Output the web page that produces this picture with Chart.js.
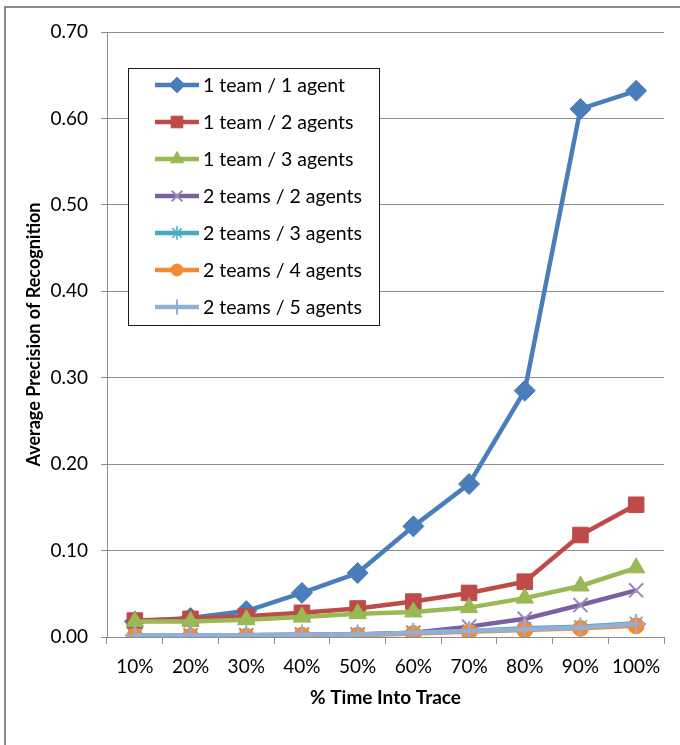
<!DOCTYPE html>
<html>
<head>
<meta charset="utf-8">
<script src="https://cdn.jsdelivr.net/npm/chart.js@4/dist/chart.umd.min.js"></script>
<style>
  html, body { margin: 0; padding: 0; background: #ffffff; }
  #wrap { width: 680px; height: 745px; }
</style>
</head>
<body>
<div id="wrap"><canvas id="chart" width="680" height="745"></canvas></div>
<script>
// Categories (x axis)
const timeLabels = ['10%', '20%', '30%', '40%', '50%', '60%', '70%', '80%', '90%', '100%'];

// Series names
const seriesNames = [
  '1 team / 1 agent',
  '1 team / 2 agents',
  '1 team / 3 agents',
  '2 teams / 2 agents',
  '2 teams / 3 agents',
  '2 teams / 4 agents',
  '2 teams / 5 agents'
];

// Average precision of recognition per series
const team1Agent1  = [0.018, 0.022, 0.030, 0.051, 0.074, 0.128, 0.177, 0.285, 0.611, 0.632];
const team1Agents2 = [0.019, 0.021, 0.024, 0.028, 0.033, 0.041, 0.051, 0.064, 0.118, 0.153];
const team1Agents3 = [0.018, 0.018, 0.020, 0.023, 0.027, 0.029, 0.034, 0.045, 0.059, 0.080];
const teams2Agents2 = [0.002, 0.002, 0.002, 0.003, 0.003, 0.005, 0.012, 0.021, 0.037, 0.054];
const teams2Agents3 = [0.001, 0.001, 0.002, 0.002, 0.003, 0.005, 0.007, 0.010, 0.012, 0.016];
const teams2Agents4 = [0.001, 0.001, 0.001, 0.002, 0.002, 0.004, 0.006, 0.008, 0.010, 0.013];
const teams2Agents5 = [0.002, 0.002, 0.002, 0.003, 0.003, 0.005, 0.007, 0.009, 0.011, 0.015];

// Y axis range
const yMin = 0;
const yMax = 0.70;
const yStep = 0.10;

const seriesValues = [team1Agent1, team1Agents2, team1Agents3, teams2Agents2, teams2Agents3, teams2Agents4, teams2Agents5];

// Styling per series
const seriesStyles = [
  { color: '#4A7EBB', marker: 'rectRot',  radius: 10.5, border: 1 },
  { color: '#BE4B48', marker: 'rect',     radius: 11,   border: 1 },
  { color: '#98B954', marker: 'triangle', radius: 10,   border: 1 },
  { color: '#7D60A0', marker: 'crossRot', radius: 10,   border: 2, markerColor: '#9C87BC' },
  { color: '#46AAC5', marker: 'star',     radius: 9,    border: 1.5 },
  { color: '#F38A35', marker: 'circle',   radius: 8,    border: 1 },
  { color: '#92AFD8', marker: 'cross',    radius: 10,   border: 2 }
];

const FONT = 'Lato, "Open Sans", "Liberation Sans", sans-serif';
const GRID = '#8C8C8C';

const datasets = seriesValues.map((vals, i) => {
  const s = seriesStyles[i];
  const mc = s.markerColor || s.color;
  return {
    label: seriesNames[i],
    data: vals,
    borderColor: s.color,
    backgroundColor: s.color,
    borderWidth: 4.5,
    pointStyle: s.marker,
    pointRadius: s.radius,
    pointBorderWidth: s.border,
    pointBackgroundColor: mc,
    pointBorderColor: mc,
    tension: 0,
    // later series sit on top of earlier ones
    order: seriesValues.length - i
  };
});

// Frame around the whole figure
const framePlugin = {
  id: 'frame',
  beforeDraw(chart) {
    const ctx = chart.ctx;
    ctx.save();
    ctx.fillStyle = '#ffffff';
    ctx.fillRect(0, 0, chart.width, chart.height);
    ctx.strokeStyle = '#8A8A8A';
    ctx.lineWidth = 2;
    ctx.beginPath();
    ctx.moveTo(5, chart.height + 2);
    ctx.lineTo(5, 7);
    ctx.lineTo(chart.width + 2, 7);
    ctx.stroke();
    ctx.restore();
  }
};

// Boxed legend inside the plot area
const boxLegendPlugin = {
  id: 'boxLegend',
  afterDatasetsDraw(chart) {
    const ctx = chart.ctx;
    const box = { x: 128.5, y: 68.5, w: 251, h: 257 };
    ctx.save();
    ctx.fillStyle = '#ffffff';
    ctx.fillRect(box.x, box.y, box.w, box.h);
    ctx.strokeStyle = '#1a1a1a';
    ctx.lineWidth = 1;
    ctx.strokeRect(box.x, box.y, box.w, box.h);

    const rowTop = 85;
    const rowGap = 37;
    const lineX0 = 155, lineX1 = 199, textX = 203;
    ctx.font = '19.5px ' + FONT;
    ctx.textBaseline = 'middle';
    ctx.textAlign = 'left';
    chart.data.datasets.forEach((ds, i) => {
      const y = rowTop + i * rowGap;
      ctx.strokeStyle = ds.borderColor;
      ctx.lineWidth = ds.borderWidth;
      ctx.beginPath();
      ctx.moveTo(lineX0, y);
      ctx.lineTo(lineX1, y);
      ctx.stroke();
      ctx.fillStyle = ds.pointBackgroundColor;
      ctx.strokeStyle = ds.pointBorderColor;
      ctx.lineWidth = ds.pointBorderWidth;
      Chart.helpers.drawPoint(ctx, {
        pointStyle: ds.pointStyle,
        radius: ds.pointRadius * 0.75,
        rotation: 0,
        borderWidth: ds.pointBorderWidth
      }, (lineX0 + lineX1) / 2, y);
      ctx.fillStyle = '#000000';
      ctx.fillText(ds.label, textX, y + 1);
    });
    ctx.restore();
  }
};

new Chart(document.getElementById('chart'), {
  type: 'line',
  data: { labels: timeLabels, datasets },
  plugins: [framePlugin, boxLegendPlugin],
  options: {
    responsive: false,
    devicePixelRatio: 1,
    animation: false,
    layout: { padding: { top: 32, right: 16, left: 0, bottom: 0 } },
    plugins: {
      legend: { display: false },
      tooltip: { enabled: false },
      title: { display: false }
    },
    scales: {
      x: {
        type: 'category',
        offset: true,
        grid: {
          display: true,
          offset: true,
          drawOnChartArea: false,
          drawTicks: true,
          tickLength: 7,
          color: GRID,
          lineWidth: 1
        },
        border: { display: true, color: GRID, width: 1 },
        ticks: {
          color: '#000000',
          font: { family: FONT, size: 19 },
          padding: 11,
          maxRotation: 0,
          autoSkip: false
        },
        title: {
          display: true,
          text: '% Time Into Trace',
          color: '#000000',
          font: { family: FONT, size: 19, weight: 'bold' },
          padding: { top: 0, bottom: 36 }
        },
        afterFit(scale) { scale.height = 108; }
      },
      y: {
        min: yMin,
        max: yMax,
        grid: {
          display: true,
          color: GRID,
          lineWidth: 1,
          drawTicks: true,
          tickLength: 6
        },
        border: { display: true, color: GRID, width: 1 },
        ticks: {
          stepSize: yStep,
          color: '#000000',
          font: { family: FONT, size: 19 },
          padding: 13,
          callback: (v) => Number(v).toFixed(2)
        },
        title: {
          display: true,
          text: 'Average Precision of Recognition',
          color: '#000000',
          font: { family: FONT, size: 18, weight: 'bold' },
          padding: { top: 23, bottom: 0 }
        },
        afterFit(scale) { scale.width = 107; }
      }
    }
  }
});
</script>
</body>
</html>
